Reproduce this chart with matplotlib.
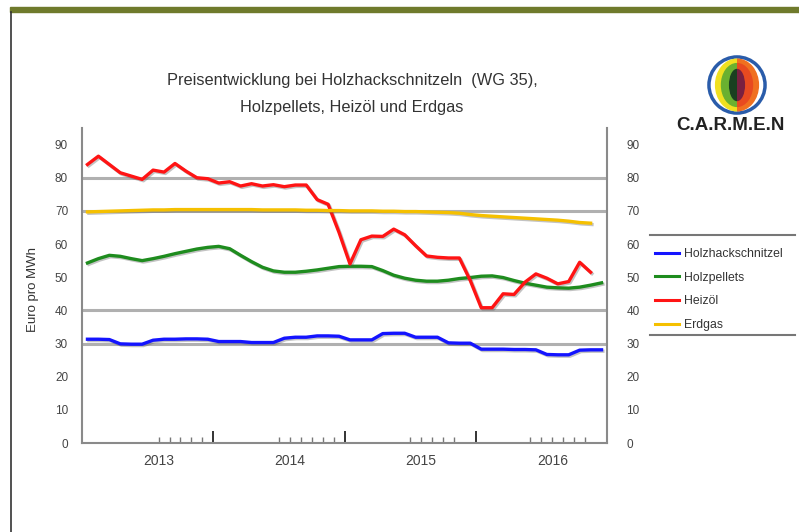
import numpy as np
import matplotlib
matplotlib.use('Agg')
import matplotlib.pyplot as plt
import matplotlib.patheffects as pe
from matplotlib.patches import Rectangle, Circle, Ellipse
from matplotlib.lines import Line2D

plt.rcParams['font.family'] = ['Liberation Sans', 'DejaVu Sans']

# Monatswerte in Euro pro MWh, ab Januar 2013 (x = Monat + 0.5)
hackschnitzel = [31.3, 31.3, 31.2, 29.9, 29.8, 29.8, 31.0, 31.3, 31.3, 31.4,
                 31.4, 31.3, 30.6, 30.6, 30.6, 30.3, 30.3, 30.3, 31.6, 31.9,
                 31.9, 32.3, 32.3, 32.2, 31.1, 31.1, 31.1, 33.0, 33.1, 33.1,
                 31.9, 31.9, 31.9, 30.2, 30.1, 30.1, 28.3, 28.3, 28.3, 28.2,
                 28.2, 28.1, 26.7, 26.6, 26.6, 28.0, 28.1, 28.1]
pellets = [54.3, 55.6, 56.6, 56.3, 55.6, 55.0, 55.6, 56.3, 57.1, 57.8,
           58.5, 59.0, 59.3, 58.6, 56.6, 54.7, 53.0, 51.9, 51.5, 51.5,
           51.8, 52.2, 52.7, 53.2, 53.3, 53.3, 53.2, 52.0, 50.6, 49.7,
           49.1, 48.8, 48.8, 49.1, 49.6, 49.9, 50.3, 50.4, 49.9, 49.0,
           48.2, 47.6, 47.0, 46.8, 46.7, 47.0, 47.6, 48.3]
heizoel = [84.0, 86.5, 84.0, 81.5, 80.5, 79.5, 82.3, 81.7, 84.3, 82.0,
           80.0, 79.7, 78.4, 78.8, 77.5, 78.2, 77.5, 77.9, 77.3, 77.8,
           77.8, 73.4, 72.0, 63.5, 54.0, 61.3, 62.4, 62.3, 64.5, 62.8,
           59.5, 56.4, 56.0, 55.8, 55.8, 49.0, 40.8, 40.8, 45.0, 44.8,
           48.5, 51.0, 49.7, 48.0, 48.7, 54.5, 51.5]
erdgas = [69.7, 69.8, 69.9, 70.0, 70.1, 70.2, 70.3, 70.3, 70.4, 70.4,
          70.4, 70.4, 70.4, 70.4, 70.4, 70.4, 70.3, 70.3, 70.3, 70.3,
          70.2, 70.2, 70.1, 70.1, 70.0, 70.0, 70.0, 69.9, 69.9, 69.8,
          69.8, 69.7, 69.6, 69.5, 69.3, 68.9, 68.6, 68.4, 68.2, 68.0,
          67.8, 67.6, 67.4, 67.2, 66.9, 66.5, 66.3]

namen = ["Holzhackschnitzel", "Holzpellets", "Heizöl", "Erdgas"]
farben = ['#1414ff', '#1e8c1e', '#ff1414', '#f5c000']
jahre = ["2013", "2014", "2015", "2016"]
jahr_pos = [7, 19, 31, 43]
major_x = [12, 24, 36]
minor_x = [7, 8, 9, 10, 11, 18, 19, 20, 21, 22, 23, 30, 31, 32, 33, 34,
           41, 42, 43, 44, 45, 46]
grid_y = [30, 40, 70, 80]

W, H = 799, 532
fig = plt.figure(figsize=(W / 100, H / 100), dpi=100)

# Rahmen: olivgruene Leiste oben, Linie links
fig.patches.append(Rectangle((10 / W, 1 - 12 / H), 1, 5 / H, transform=fig.transFigure,
                             color='#6f7a2c', zorder=0))
fig.lines.append(Line2D([10.5 / W, 10.5 / W], [0, 1 - 12 / H], transform=fig.transFigure,
                        color='#333333', lw=1.2))

ax = fig.add_axes([82 / W, 1 - 443 / H, (607 - 82) / W, (443 - 128) / H])
ax.set_xlim(0, 48)
ax.set_ylim(0, 95)

for g in grid_y:
    ax.axhline(g, color='#b0b0b0', lw=2.2, zorder=1)

shadow = [pe.SimpleLineShadow(offset=(1, -1), shadow_color='#555555', alpha=0.35), pe.Normal()]
serien = [hackschnitzel, pellets, heizoel, erdgas]
for werte, name, farbe in zip(serien, namen, farben):
    x = np.arange(len(werte)) + 0.5
    ax.plot(x, werte, color=farbe, lw=2.4, label=name, zorder=3,
            path_effects=shadow, solid_joinstyle='round')

for s in ['left', 'right', 'bottom']:
    ax.spines[s].set_color('#8a8a8a')
    ax.spines[s].set_linewidth(1.5)
ax.spines['top'].set_visible(False)

ax.set_yticks(range(0, 91, 10))
ax.tick_params(axis='y', length=0, pad=10, labelsize=8.5, labelcolor='#444444')
sec = ax.secondary_yaxis('right')
sec.set_yticks(range(0, 91, 10))
sec.spines['right'].set_visible(False)
sec.tick_params(axis='y', length=0, pad=14, labelsize=8.5, labelcolor='#444444')

ax.set_xticks(major_x)
ax.set_xticklabels([])
ax.set_xticks(minor_x, minor=True)
ax.tick_params(axis='x', which='major', direction='in', length=9, width=1.4, color='#333333')
ax.tick_params(axis='x', which='minor', direction='in', length=4, width=1.0, color='#777777')
for jahr, pos in zip(jahre, jahr_pos):
    ax.text(pos, -0.058, jahr, transform=ax.get_xaxis_transform(), ha='center', va='center',
            fontsize=10, color='#444444')

fig.text(33 / W, 1 - 290 / H, "Euro pro MWh", rotation=90, ha='center', va='center',
         fontsize=9.5, color='#333333')

fig.text(352 / W, 1 - 80 / H, "Preisentwicklung bei Holzhackschnitzeln  (WG 35),",
         ha='center', va='center', fontsize=11.8, color='#333333')
fig.text(352 / W, 1 - 108 / H, "Holzpellets, Heizöl und Erdgas",
         ha='center', va='center', fontsize=11.8, color='#333333')

# Legende
handles = [Line2D([], [], color=f, lw=2.2) for f in farben]
fig.legend(handles, namen, loc='upper left', bbox_to_anchor=(644 / W, 1 - 237 / H),
           frameon=False, fontsize=8.8, labelspacing=0.95, handlelength=2.0,
           handletextpad=0.4, labelcolor='#333333')
for yy in [235, 335]:
    fig.lines.append(Line2D([650 / W, 795 / W], [1 - yy / H, 1 - yy / H],
                            transform=fig.transFigure, color='#777777', lw=1.5))

# Logo
lax = fig.add_axes([706 / W, 1 - 116 / H, 62 / W, 62 / H])
lax.set_xlim(-1.05, 1.05)
lax.set_ylim(-1.05, 1.05)
lax.axis('off')
lax.add_patch(Circle((0, 0), 0.95, fc='none', ec='#2a5caa', lw=2.5))
links = Rectangle((-1.2, -1.2), 1.2, 2.4, transform=lax.transData)
rechts = Rectangle((0, -1.2), 1.2, 2.4, transform=lax.transData)
for (w, h, cl, cr) in [(1.45, 1.75, '#f0e020', '#f07020'),
                       (1.05, 1.45, '#6ab030', '#e84a20'),
                       (0.5, 1.05, '#1a4020', '#7a2040')]:
    e1 = Ellipse((0, 0), w, h, color=cl)
    e2 = Ellipse((0, 0), w, h, color=cr)
    lax.add_patch(e1)
    lax.add_patch(e2)
    e1.set_clip_path(links)
    e2.set_clip_path(rechts)

fig.text(676 / W, 1 - 126 / H, "C.A.R.M.E.N", ha='left', va='center',
         fontsize=13.5, fontweight='bold', color='#222222')

fig.savefig('out.png', dpi=100)
